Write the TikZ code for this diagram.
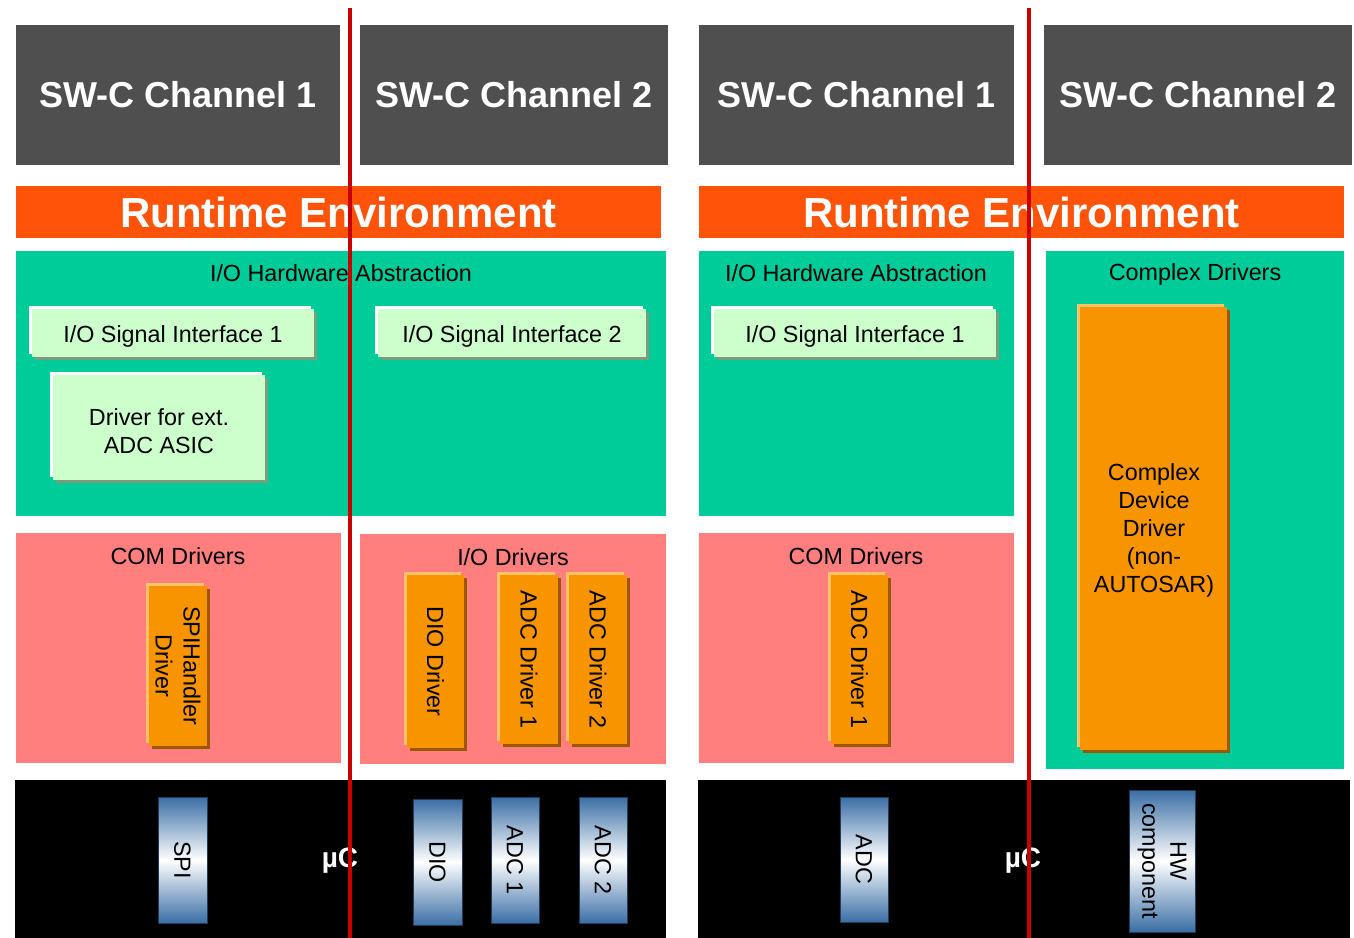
\documentclass[tikz,border=0pt]{standalone}
\usepackage{fontspec}
\setmainfont{Liberation Sans}
\usetikzlibrary{fit,shadows}

\definecolor{swcgrey}{HTML}{4F4F4F}
\definecolor{rteorange}{HTML}{FF5309}
\definecolor{hwteal}{HTML}{00CC99}
\definecolor{compink}{HTML}{FF7F7F}
\definecolor{ifgreen}{HTML}{CCFFCC}
\definecolor{ifshade}{HTML}{7C9C7C}
\definecolor{drvorange}{HTML}{F79400}
\definecolor{drvlight}{HTML}{FFC266}
\definecolor{drvdark}{HTML}{9C5800}
\definecolor{chanred}{HTML}{C80000}
\definecolor{pinblue}{HTML}{3A6EA5}

\tikzset{
  area/.style={fit={#1}, inner sep=0pt, outer sep=0pt},
  swcbox/.style={fill=swcgrey},
  swctext/.style={text=white, font=\bfseries\fontsize{27}{32}\selectfont, inner sep=0pt},
  rtebox/.style={fill=rteorange},
  rtetext/.style={text=white, font=\bfseries\fontsize{31.5}{36}\selectfont, inner sep=0pt},
  layer/.style={fill=#1},
  ifbox/.style={fill=ifgreen,
    general shadow={fill=white, shadow xshift=-2.2pt, shadow yshift=2.2pt},
    general shadow={fill=ifshade, shadow xshift=2.2pt, shadow yshift=-2.2pt}},
  plain/.style={align=center, inner sep=0pt},
  boxtext/.style={align=center, inner sep=0pt, yshift=-2.5pt},
  drvbox/.style={fill=drvorange,
    general shadow={fill=drvlight, shadow xshift=-2pt, shadow yshift=2pt},
    general shadow={fill=drvdark, shadow xshift=2pt, shadow yshift=-2pt}},
  pinbox/.style={top color=pinblue, bottom color=pinblue, middle color=white,
    draw=pinblue!55!black, line width=0.6pt},
  mcu/.style={fill=black},
  mcutext/.style={text=white, font=\bfseries\fontsize{21}{25}\selectfont, inner sep=0pt},
  rot/.style={rotate=-90, align=center, inner sep=0pt},
  cut/.style={draw=chanred, line width=3.2pt}
}

\begin{document}
\begin{tikzpicture}[x=0.75pt, y=-0.75pt, font=\fontsize{17.5}{21}\selectfont]
\useasboundingbox (0,0) rectangle (1354,938);

% ---------- left configuration ----------
\node[area={(16,25) (340,165)}, swcbox] (swcL1) {};
\node[swctext] at (swcL1.center) (swcL1T) {SW-C Channel 1};
\node[area={(360,25) (668,165)}, swcbox] (swcL2) {};
\node[swctext] at (swcL2.center) (swcL2T) {SW-C Channel 2};
\node[area={(16,186) (661,238)}, rtebox] (rteL) {};
\node[rtetext] at (rteL.center) (rteLT) {Runtime Environment};

\node[area={(16,251) (666,516)}, layer=hwteal] (ioabsL) {};
\node[plain] at (341,273) (ioabsLt) {I/O Hardware Abstraction};
\node[area={(32,309) (314,357)}, ifbox] (sigL1) {};
\node[boxtext] at (sigL1.center) (sigL1T) {I/O Signal Interface 1};
\node[area={(378,309) (646,357)}, ifbox] (sigL2) {};
\node[boxtext] at (sigL2.center) (sigL2T) {I/O Signal Interface 2};
\node[area={(53,375) (265,480)}, ifbox] (asic) {};
\node[boxtext] at (asic.center) (asicT) {Driver for ext.\\ADC ASIC};

\node[area={(16,533) (341,763)}, layer=compink] (comL) {};
\node[plain] at (178,556) (comLt) {COM Drivers};
\node[area={(149,586) (207,746)}, drvbox] (spih) {};
\node[rot] at (spih.center) (spihT) {SPIHandler\\Driver};

\node[area={(360,534) (666,764)}, layer=compink] (iodrv) {};
\node[plain] at (513,557) (iodrvt) {I/O Drivers};
\node[area={(407,575) (464,748)}, drvbox] (dio) {};
\node[rot] at (dio.center) (dioT) {DIO Driver};
\node[area={(500,575) (558,744)}, drvbox] (adcd1) {};
\node[rot] at (adcd1.center) (adcd1T) {ADC Driver 1};
\node[area={(569,575) (627,744)}, drvbox] (adcd2) {};
\node[rot] at (adcd2.center) (adcd2T) {ADC Driver 2};

\node[area={(15,780) (666,938)}, mcu] (mcuL) {};
\node[mcutext] at (340,861) (mcuLt) {µC};
\node[area={(158,797) (207,923)}, pinbox] (spi) {};
\node[rot] at (spi.center) (spiT) {SPI};
\node[area={(413,799) (462,925)}, pinbox] (diop) {};
\node[rot] at (diop.center) (diopT) {DIO};
\node[area={(491,797) (539,923)}, pinbox] (adc1) {};
\node[rot] at (adc1.center) (adc1T) {ADC 1};
\node[area={(579,797) (627,923)}, pinbox] (adc2) {};
\node[rot] at (adc2.center) (adc2T) {ADC 2};

% ---------- right configuration ----------
\node[area={(699,25) (1014,165)}, swcbox] (swcR1) {};
\node[swctext] at (swcR1.center) (swcR1T) {SW-C Channel 1};
\node[area={(1044,25) (1352,165)}, swcbox] (swcR2) {};
\node[swctext] at (swcR2.center) (swcR2T) {SW-C Channel 2};
\node[area={(699,186) (1344,238)}, rtebox] (rteR) {};
\node[rtetext] at (rteR.center) (rteRT) {Runtime Environment};

\node[area={(699,251) (1014,516)}, layer=hwteal] (ioabsR) {};
\node[plain] at (856,273) (ioabsRt) {I/O Hardware Abstraction};
\node[area={(714,309) (996,357)}, ifbox] (sigR1) {};
\node[boxtext] at (sigR1.center) (sigR1T) {I/O Signal Interface 1};

\node[area={(1046,251) (1344,769)}, layer=hwteal] (cdrv) {};
\node[plain] at (1195,274) (cdrvt) {Complex Drivers};
\node[area={(1080,307) (1227,750)}, drvbox] (cdd) {};
\node[plain] at (1154,530) (cddT) {Complex\\Device\\Driver\\(non-\\AUTOSAR)};

\node[area={(699,533) (1014,763)}, layer=compink] (comR) {};
\node[plain] at (856,556) (comRt) {COM Drivers};
\node[area={(831,575) (888,744)}, drvbox] (adcdR) {};
\node[rot] at (adcdR.center) (adcdRT) {ADC Driver 1};

\node[area={(698,780) (1350,938)}, mcu] (mcuR) {};
\node[mcutext] at (1023,861) (mcuRt) {µC};
\node[area={(840,797) (888,922)}, pinbox] (adcR) {};
\node[rot] at (adcR.center) (adcRT) {ADC};
\node[area={(1129,790) (1195,932)}, pinbox] (hw) {};
\node[rot] at (hw.center) (hwT) {HW\\component};

% ---------- channel separation lines ----------
\coordinate (cutLtop) at (350,8);
\coordinate (cutLbot) at (350,938);
\coordinate (cutRtop) at (1029,8);
\coordinate (cutRbot) at (1029,938);
\draw[cut] (cutLtop) -- (cutLbot);
\draw[cut] (cutRtop) -- (cutRbot);
\end{tikzpicture}
\end{document}
